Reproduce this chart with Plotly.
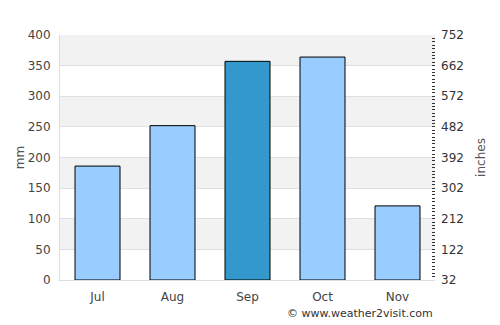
import plotly.graph_objects as go

months = ["Jul", "Aug", "Sep", "Oct", "Nov"]
rain_mm = [186, 252, 357, 364, 121]
highlight = "Sep"
right_ticks = [32, 122, 212, 302, 392, 482, 572, 662, 752]

FONT = "DejaVu Sans"
colors = ["#3399cc" if m == highlight else "#99ccff" for m in months]

fig = go.Figure()

# alternating bands
for lo in range(50, 400, 100):
    fig.add_shape(type="rect", xref="paper", yref="y", x0=0, x1=1, y0=lo, y1=lo + 50,
                  fillcolor="#f2f2f2", line_width=0, layer="below")

fig.add_trace(go.Bar(x=months, y=rain_mm, marker=dict(color=colors, line=dict(color="#000", width=1)),
                     width=0.6, showlegend=False, hoverinfo="x+y"))
fig.add_trace(go.Scatter(x=months, y=[None] * len(months), yaxis="y2", showlegend=False,
                         hoverinfo="skip"))

fig.update_layout(
    width=500, height=325,
    margin=dict(l=60, r=65, t=35, b=45),
    paper_bgcolor="white", plot_bgcolor="white",
    font=dict(family=FONT, size=12, color="#444"),
    xaxis=dict(showgrid=False, showline=True, linecolor="#dddddd", linewidth=1,
               ticks="", ticklabelstandoff=6, tickfont=dict(size=12, color="#444"), fixedrange=True),
    yaxis=dict(range=[0, 400], dtick=50, showgrid=True, gridcolor="#e0e0e0", gridwidth=1,
               zeroline=False, showline=True, linecolor="#dddddd", linewidth=1,
               ticks="", ticklabelstandoff=6, tickfont=dict(size=12, color="#444"),
               title=dict(text="mm", font=dict(size=12, color="#555"), standoff=0)),
    yaxis2=dict(range=[32, 752], overlaying="y", side="right", tickvals=right_ticks,
                showgrid=False, zeroline=False, showline=False,
                ticks="inside", ticklen=3, tickcolor="#333", tickwidth=1, ticklabelstandoff=5,
                minor=dict(dtick=10, tick0=32, ticks="inside", ticklen=3, tickcolor="#333", tickwidth=1),
                tickfont=dict(size=12, color="#333"),
                title=dict(text="inches", font=dict(size=12, color="#555"), standoff=13)),
    annotations=[dict(text="© www.weather2visit.com", xref="paper", yref="paper",
                      x=1, y=0, xanchor="right", yanchor="middle", yshift=-33, xshift=0,
                      showarrow=False, font=dict(size=11, color="#333"))],
)

fig.write_html("out.html")
